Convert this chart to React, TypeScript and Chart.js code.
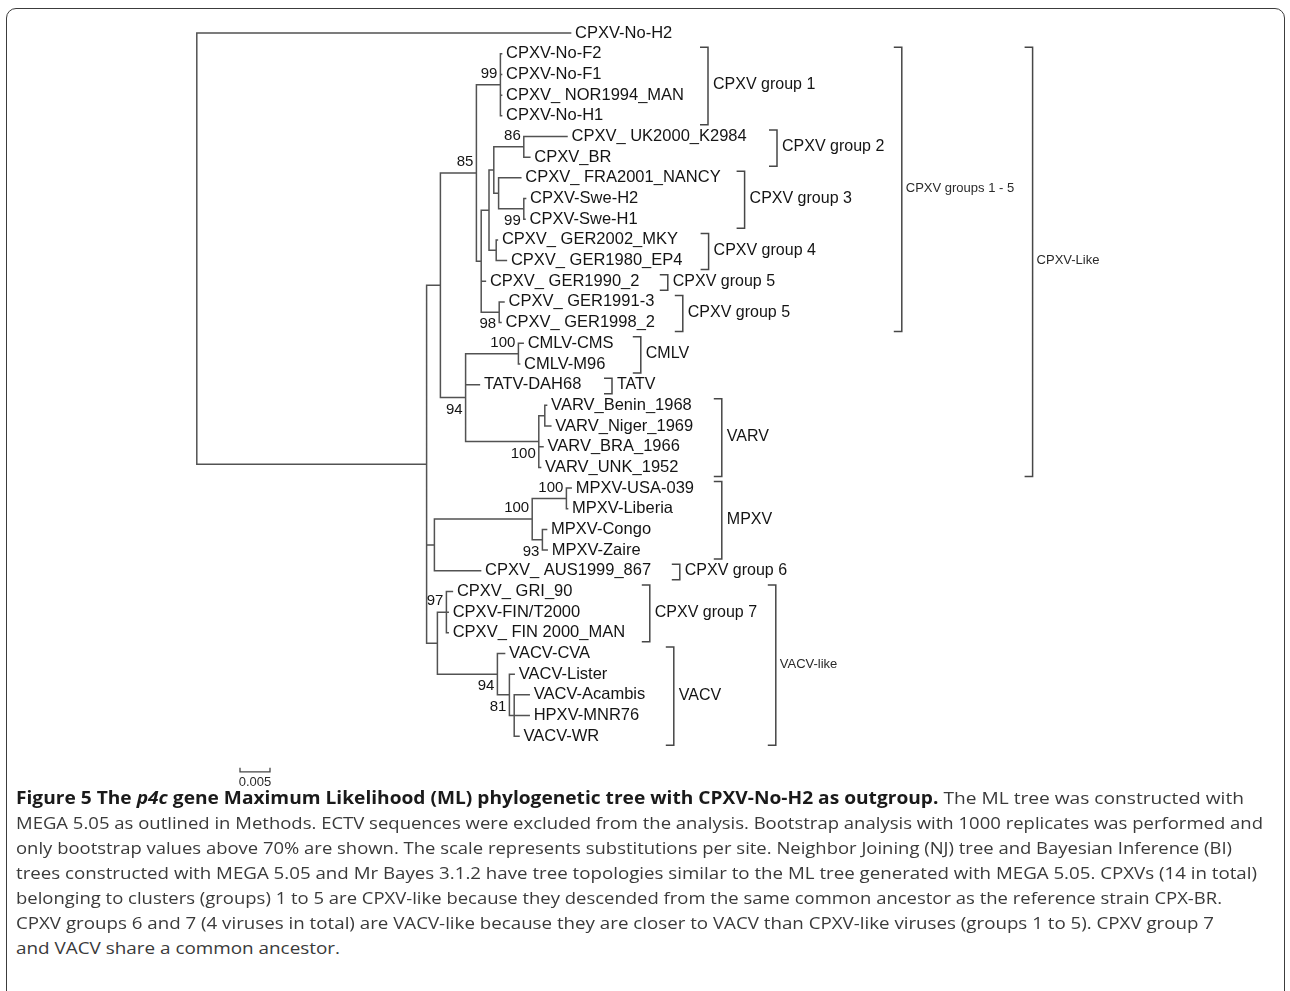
import React, { useEffect, useLayoutEffect, useRef } from "react";
import { Chart, registerables } from "chart.js";

Chart.register(...registerables);

// ---------------- DATA ----------------
const leafNames = [
  "CPXV-No-H2", "CPXV-No-F2", "CPXV-No-F1", "CPXV_ NOR1994_MAN", "CPXV-No-H1",
  "CPXV_ UK2000_K2984", "CPXV_BR", "CPXV_ FRA2001_NANCY", "CPXV-Swe-H2", "CPXV-Swe-H1",
  "CPXV_ GER2002_MKY", "CPXV_ GER1980_EP4", "CPXV_ GER1990_2", "CPXV_ GER1991-3", "CPXV_ GER1998_2",
  "CMLV-CMS", "CMLV-M96", "TATV-DAH68", "VARV_Benin_1968", "VARV_Niger_1969", "VARV_BRA_1966", "VARV_UNK_1952",
  "MPXV-USA-039", "MPXV-Liberia", "MPXV-Congo", "MPXV-Zaire", "CPXV_ AUS1999_867",
  "CPXV_ GRI_90", "CPXV-FIN/T2000", "CPXV_ FIN 2000_MAN",
  "VACV-CVA", "VACV-Lister", "VACV-Acambis", "HPXV-MNR76", "VACV-WR",
];
const leafParents = [
  "root", "G1", "G1", "G1", "G1",
  "G2", "G2", "G3", "SWE", "SWE",
  "G4", "G4", "G2345", "G5", "G5",
  "CMLV", "CMLV", "D", "BN", "BN", "VARV", "VARV",
  "UL", "UL", "CZ", "CZ", "E",
  "G7", "G7", "G7",
  "VACV", "V2", "V3", "V3", "V3",
];
const leafLengths = [
  0.0623, 0.0002, 0.0002, 0.0002, 0.0002,
  0.0072, 0.0010, 0.0037, 0.0003, 0.0002,
  0.0002, 0.0017, 0.0007, 0.0008, 0.0003,
  0.0008, 0.0002, 0.0023, 0.0003, 0.0010, 0.0007, 0.0003,
  0.0008, 0.0002, 0.0007, 0.0008, 0.0077,
  0.0010, 0.0003, 0.0003,
  0.0012, 0.0008, 0.0025, 0.0025, 0.0008,
];

const nodeIds = ["root", "A", "B", "C", "G1", "G2345", "G234", "G23", "G2", "G3", "SWE", "G4", "G5", "D", "CMLV", "VARV", "BN", "E", "MPXV", "UL", "CZ", "F", "G7", "VACV", "V2", "V3"];
const nodeParents = [null, "root", "A", "B", "C", "C", "G2345", "G234", "G23", "G23", "G3", "G234", "G2345", "B", "D", "D", "VARV", "A", "E", "MPXV", "MPXV", "A", "F", "F", "VACV", "V2"];
const nodeLengths = [0, 0.0383, 0.0023, 0.0060, 0.0040, 0.0008, 0.0013, 0.0008, 0.0050, 0.0008, 0.0042, 0.0012, 0.0030, 0.0042, 0.0088, 0.0122, 0.0010, 0.0013, 0.0163, 0.0057, 0.0017, 0.0018, 0.0015, 0.0100, 0.0020, 0.0008];
const nodeBootstrap = [null, null, null, 85, 99, null, null, null, 86, null, 99, null, 98, 94, 100, 100, null, null, 100, 100, 93, null, 97, 94, 81, null];
// where the bootstrap value sits relative to its node (layout)
const bootstrapSide = ["", "", "", "up", "up", "", "", "", "up", "", "down", "", "down", "down", "up", "down", "", "", "up", "up", "down", "", "up", "down", "down", ""];

const groupNames = ["CPXV group 1", "CPXV group 2", "CPXV group 3", "CPXV group 4", "CPXV group 5", "CPXV group 5", "CMLV", "TATV", "VARV", "MPXV", "CPXV group 6", "CPXV group 7", "VACV", "VACV-like", "CPXV groups 1 - 5", "CPXV-Like"];
const groupFirstLeaf = [1, 5, 7, 10, 12, 13, 15, 17, 18, 22, 26, 27, 30, 27, 1, 1];
const groupLastLeaf = [4, 6, 9, 11, 12, 14, 16, 17, 21, 25, 26, 29, 34, 34, 14, 21];
// layout of the brackets (x in substitutions/site from the root)
const groupBracketX = [0.0852, 0.0967, 0.0913, 0.0853, 0.0785, 0.0810, 0.0740, 0.0692, 0.0875, 0.0875, 0.0805, 0.0755, 0.0795, 0.0965, 0.1175, 0.1393];
const groupSmallText = [false, false, false, false, false, false, false, false, false, false, false, false, false, true, true, true];

const scaleBarLength = 0.005;
const scaleBarLabel = "0.005";
const scaleBarStart = 0.0072;
const scaleBarRow = 35.72;

const captionLines = [
  [["b", "Figure 5 The "], ["bi", "p4c"], ["b", " gene Maximum Likelihood (ML) phylogenetic tree with CPXV-No-H2 as outgroup."], ["r", " The ML tree was constructed with"]],
  [["r", "MEGA 5.05 as outlined in Methods. ECTV sequences were excluded from the analysis. Bootstrap analysis with 1000 replicates was performed and"]],
  [["r", "only bootstrap values above 70% are shown. The scale represents substitutions per site. Neighbor Joining (NJ) tree and Bayesian Inference (BI)"]],
  [["r", "trees constructed with MEGA 5.05 and Mr Bayes 3.1.2 have tree topologies similar to the ML tree generated with MEGA 5.05. CPXVs (14 in total)"]],
  [["r", "belonging to clusters (groups) 1 to 5 are CPXV-like because they descended from the same common ancestor as the reference strain CPX-BR."]],
  [["r", "CPXV groups 6 and 7 (4 viruses in total) are VACV-like because they are closer to VACV than CPXV-like viruses (groups 1 to 5). CPXV group 7"]],
  [["r", "and VACV share a common ancestor."]],
];
// layout: right end (px) of each caption line in the figure
const captionLineEnds = [1244, 1263, 1232, 1257, 1222, 1214, 340];

// ---------------- LAYOUT ----------------
const CANVAS_W = 1290;
const CANVAS_H = 790;
const X_MIN = -0.0328;
const X_MAX = 0.1822;
const Y_MIN = -1.6;
const Y_MAX = 36.6;
const PX_PER_SUB = CANVAS_W / (X_MAX - X_MIN);
const PX_PER_ROW = CANVAS_H / (Y_MAX - Y_MIN);
const FONT = '"Liberation Sans", Arial, Helvetica, sans-serif';
const LINE_COLOR = "#525252";
const BRACKET_COLOR = "#474747";
const TEXT_COLOR = "#141414";

function buildTree() {
  const idx: Record<string, number> = {};
  nodeIds.forEach((id, i) => (idx[id] = i));
  const nodeX: number[] = new Array(nodeIds.length).fill(NaN);
  const xOf = (i: number): number => {
    if (!isNaN(nodeX[i])) return nodeX[i];
    const p = nodeParents[i];
    nodeX[i] = p == null ? 0 : xOf(idx[p]) + nodeLengths[i];
    return nodeX[i];
  };
  nodeIds.forEach((_, i) => xOf(i));
  const childYs: number[][] = nodeIds.map(() => []);
  const nodeY: number[] = new Array(nodeIds.length).fill(NaN);
  const yOf = (i: number): number => {
    if (!isNaN(nodeY[i])) return nodeY[i];
    const ys: number[] = [];
    leafParents.forEach((p, li) => { if (p === nodeIds[i]) ys.push(li); });
    nodeParents.forEach((p, ni) => { if (p === nodeIds[i]) ys.push(yOf(ni)); });
    childYs[i] = ys;
    nodeY[i] = (Math.min(...ys) + Math.max(...ys)) / 2;
    return nodeY[i];
  };
  nodeIds.forEach((_, i) => yOf(i));
  const leaves = leafNames.map((name, i) => ({
    name,
    y: i,
    x0: nodeX[idx[leafParents[i]]],
    x: nodeX[idx[leafParents[i]]] + leafLengths[i],
  }));
  const nodes = nodeIds.map((id, i) => ({
    id,
    x: nodeX[i],
    y: nodeY[i],
    x0: nodeParents[i] == null ? nodeX[i] : nodeX[idx[nodeParents[i] as string]],
    yMin: Math.min(...childYs[i]),
    yMax: Math.max(...childYs[i]),
    boot: nodeBootstrap[i],
    side: bootstrapSide[i],
    root: nodeParents[i] == null,
  }));
  return { leaves, nodes };
}

const GAP = { x: NaN, y: NaN };

function treeSegments(tree: ReturnType<typeof buildTree>) {
  const pts: { x: number; y: number }[] = [];
  tree.leaves.forEach((l) => { pts.push({ x: l.x0, y: l.y }, { x: l.x, y: l.y }, GAP); });
  tree.nodes.forEach((n) => {
    if (!n.root) pts.push({ x: n.x0, y: n.y }, { x: n.x, y: n.y }, GAP);
    pts.push({ x: n.x, y: n.yMin }, { x: n.x, y: n.yMax }, GAP);
  });
  return pts;
}

function bracketSegments() {
  const pts: { x: number; y: number }[] = [];
  const tick = 8 / PX_PER_SUB;
  groupNames.forEach((_, i) => {
    const x = groupBracketX[i];
    const top = groupFirstLeaf[i] - 6.5 / PX_PER_ROW;
    const bot = groupLastLeaf[i] + 9 / PX_PER_ROW;
    pts.push({ x: x - tick, y: top }, { x, y: top }, { x, y: bot }, { x: x - tick, y: bot }, GAP);
  });
  return pts;
}

function scaleBarSegments() {
  const t = 4 / PX_PER_ROW;
  const x1 = scaleBarStart + scaleBarLength;
  return [
    { x: scaleBarStart, y: scaleBarRow - t }, { x: scaleBarStart, y: scaleBarRow }, { x: x1, y: scaleBarRow }, { x: x1, y: scaleBarRow - t },
  ];
}

function TreeChart() {
  const ref = useRef<HTMLCanvasElement | null>(null);
  useEffect(() => {
    if (!ref.current) return;
    const tree = buildTree();
    const textPlugin = {
      id: "treeText",
      afterDatasetsDraw(chart: any) {
        const { ctx } = chart;
        const xs = chart.scales.x;
        const ys = chart.scales.y;
        ctx.save();
        ctx.fillStyle = TEXT_COLOR;
        ctx.textBaseline = "middle";
        ctx.textAlign = "left";
        ctx.font = `16.5px ${FONT}`;
        tree.leaves.forEach((l) => ctx.fillText(l.name, xs.getPixelForValue(l.x) + 4.5, ys.getPixelForValue(l.y)));
        ctx.font = `15px ${FONT}`;
        ctx.textAlign = "right";
        tree.nodes.forEach((n) => {
          if (n.boot == null) return;
          const dy = n.side === "up" ? -11 : 12;
          ctx.fillText(String(n.boot), xs.getPixelForValue(n.x) - 3, ys.getPixelForValue(n.y) + dy);
        });
        ctx.textAlign = "left";
        groupNames.forEach((g, i) => {
          const small = groupSmallText[i];
          ctx.font = `${small ? 13 : 16}px ${FONT}`;
          ctx.fillStyle = small ? "#2a2a2a" : TEXT_COLOR;
          const top = ys.getPixelForValue(groupFirstLeaf[i]) - 6.5;
          const bot = ys.getPixelForValue(groupLastLeaf[i]) + 9;
          ctx.fillText(g, xs.getPixelForValue(groupBracketX[i]) + (small ? 4 : 5), (top + bot) / 2 - 1);
        });
        ctx.fillStyle = "#2a2a2a";
        ctx.font = `13px ${FONT}`;
        ctx.textAlign = "center";
        ctx.fillText(scaleBarLabel, xs.getPixelForValue(scaleBarStart + scaleBarLength / 2), ys.getPixelForValue(scaleBarRow) + 11);
        ctx.restore();
      },
    };
    const chart = new Chart(ref.current, {
      type: "scatter",
      data: {
        datasets: [
          { data: treeSegments(tree), showLine: true, spanGaps: false, borderColor: LINE_COLOR, borderWidth: 1.5, borderCapStyle: "square", pointRadius: 0 } as any,
          { data: bracketSegments(), showLine: true, spanGaps: false, borderColor: BRACKET_COLOR, borderWidth: 1.5, pointRadius: 0 } as any,
          { data: scaleBarSegments(), showLine: true, spanGaps: false, borderColor: BRACKET_COLOR, borderWidth: 1.3, pointRadius: 0 } as any,
        ],
      },
      options: {
        responsive: false,
        animation: false,
        events: [],
        layout: { padding: 0 },
        plugins: { legend: { display: false }, tooltip: { enabled: false } },
        scales: {
          x: { type: "linear", min: X_MIN, max: X_MAX, display: false },
          y: { type: "linear", min: Y_MIN, max: Y_MAX, reverse: true, display: false },
        },
      },
      plugins: [textPlugin],
    });
    return () => chart.destroy();
  }, []);
  return <canvas ref={ref} width={CANVAS_W} height={CANVAS_H} style={{ position: "absolute", left: 0, top: 0 }} />;
}

const CAPTION_FONT = '"Open Sans", "Noto Sans", sans-serif';
const CAPTION_LEFT = 16;

function Caption() {
  const refs = useRef<(HTMLSpanElement | null)[]>([]);
  useLayoutEffect(() => {
    refs.current.forEach((el, i) => {
      if (!el) return;
      const w = el.getBoundingClientRect().width;
      const s = (captionLineEnds[i] - CAPTION_LEFT) / w;
      el.style.transform = `scaleX(${s})`;
    });
  }, []);
  return (
    <>
      {captionLines.map((line, i) => (
        <span
          key={i}
          ref={(el) => { refs.current[i] = el; }}
          style={{
            position: "absolute", left: CAPTION_LEFT, top: 784.5 + 25 * i, display: "inline-block", whiteSpace: "nowrap",
            fontFamily: CAPTION_FONT, fontSize: 17, lineHeight: "25px", color: "#3a3a3a", transformOrigin: "0 0",
          }}
        >
          {line.map(([kind, text], j) => (
            <span key={j} style={{ fontWeight: kind.startsWith("b") ? 700 : 400, fontStyle: kind === "bi" ? "italic" : "normal", color: kind.startsWith("b") ? "#1a1a1a" : undefined }}>
              {text}
            </span>
          ))}
        </span>
      ))}
    </>
  );
}

export default function App() {
  return (
    <div style={{ position: "fixed", inset: 0, overflow: "hidden", background: "#fff" }}>
      <div style={{ position: "absolute", left: 6, top: 8, width: 1279, height: 1100, border: "1.5px solid #3c3c3c", borderRadius: 10, boxSizing: "border-box" }} />
      <TreeChart />
      <Caption />
    </div>
  );
}
